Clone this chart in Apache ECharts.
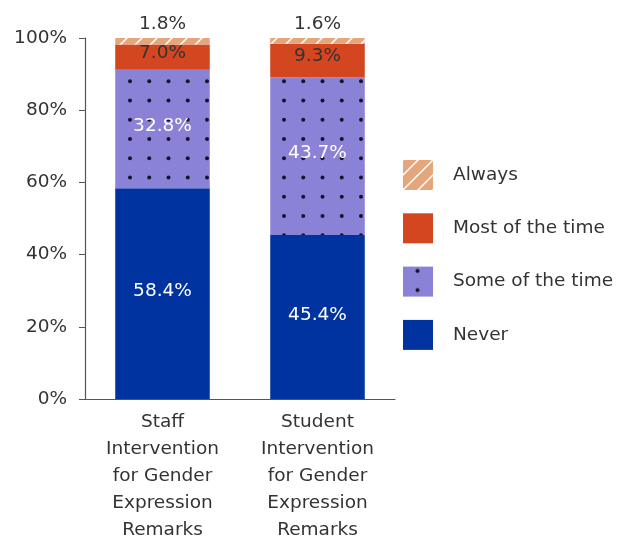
<!DOCTYPE html>
<html><head><meta charset="utf-8">
<script src="https://cdn.jsdelivr.net/npm/echarts@6/dist/echarts.min.js"></script>
<style>html,body{margin:0;padding:0;background:#fff}#c{width:623px;height:536px}</style>
</head><body><div id="c"></div>
<script>
const categories = ['Staff\nIntervention\nfor Gender\nExpression\nRemarks', 'Student\nIntervention\nfor Gender\nExpression\nRemarks'];
const seriesNames = ['Never', 'Some of the time', 'Most of the time', 'Always'];
const never = [58.4, 45.4];
const someOfTheTime = [32.8, 43.7];
const mostOfTheTime = [7.0, 9.3];
const always = [1.8, 1.6];
const yTicks = [0, 20, 40, 60, 80, 100];

function dotPattern() {
  const step = 19.25, n = 4, size = step * n;
  const c = document.createElement('canvas');
  c.width = size; c.height = size;
  const g = c.getContext('2d');
  g.fillStyle = '#8a82d6'; g.fillRect(0, 0, size, size);
  g.fillStyle = '#15152a';
  for (let i = 0; i < n; i++) for (let j = 0; j < n; j++) {
    g.beginPath(); g.arc(14.5 + i * step, 4.2 + j * step, 2, 0, Math.PI * 2); g.fill();
  }
  return c;
}
function hatchPattern() {
  const s = 15;
  const c = document.createElement('canvas');
  c.width = s; c.height = s;
  const g = c.getContext('2d');
  g.fillStyle = '#e6a67c'; g.fillRect(0, 0, s, s);
  g.strokeStyle = '#ffffff'; g.lineWidth = 1.5;
  g.beginPath();
  g.moveTo(0, s); g.lineTo(s, 0);
  g.moveTo(-s / 2, s / 2); g.lineTo(s / 2, -s / 2);
  g.moveTo(s / 2, s * 1.5); g.lineTo(s * 1.5, s / 2);
  g.stroke();
  return c;
}

const FONT = 'DejaVu Sans';
const FS = 18.5;
const chart = echarts.init(document.getElementById('c'), null, {renderer: 'canvas'});
const pct = p => p.value.toFixed(1) + '%';
const mk = (name, data, color, labelColor, labelPos, offset) => ({
  name, type: 'bar', stack: 'all', data, barWidth: '61%',
  itemStyle: {color},
  label: {show: true, position: labelPos, offset, formatter: pct, color: labelColor,
          fontFamily: FONT, fontSize: FS, distance: 4},
  emphasis: {disabled: true}
});
chart.setOption({
  animation: false,
  textStyle: {fontFamily: FONT},
  grid: {left: 85, right: 228, top: 38, bottom: 137, containLabel: false, outerBoundsMode: 'none'},
  legend: {
    orient: 'vertical', left: 403, top: 160, padding: 0, itemWidth: 30, itemHeight: 30, itemGap: 23.3,
    icon: 'rect',
    data: ['Always', 'Most of the time', 'Some of the time', 'Never'],
    textStyle: {fontFamily: FONT, fontSize: FS, color: '#333', padding: [0, 0, 0, 15]}
  },
  xAxis: {
    type: 'category', data: categories,
    axisLine: {lineStyle: {color: '#555', width: 1.2}},
    axisTick: {length: 6, lineStyle: {color: '#555'}},
    axisLabel: {fontFamily: FONT, fontSize: FS, color: '#333', lineHeight: 27, margin: 10, interval: 0}
  },
  yAxis: {
    type: 'value', min: 0, max: 100, interval: 20,
    splitLine: {show: false},
    axisLine: {show: true, lineStyle: {color: '#555', width: 1.2}},
    axisTick: {show: true, length: 6, lineStyle: {color: '#555'}},
    axisLabel: {fontFamily: FONT, fontSize: FS, color: '#333', margin: 18,
      formatter: v => yTicks.includes(v) ? v + '%' : ''}
  },
  series: [
    mk('Never', never, '#0033a0', '#ffffff', 'inside', [0, -2]),
    mk('Some of the time', someOfTheTime, {image: dotPattern(), repeat: 'repeat'}, '#ffffff', 'inside', [0, -3]),
    mk('Most of the time', mostOfTheTime, '#d4461f', '#333333', 'inside', [0, -4]),
    mk('Always', always, {image: hatchPattern(), repeat: 'repeat'}, '#333333', 'top', [0, 0])
  ]
});
</script></body></html>
